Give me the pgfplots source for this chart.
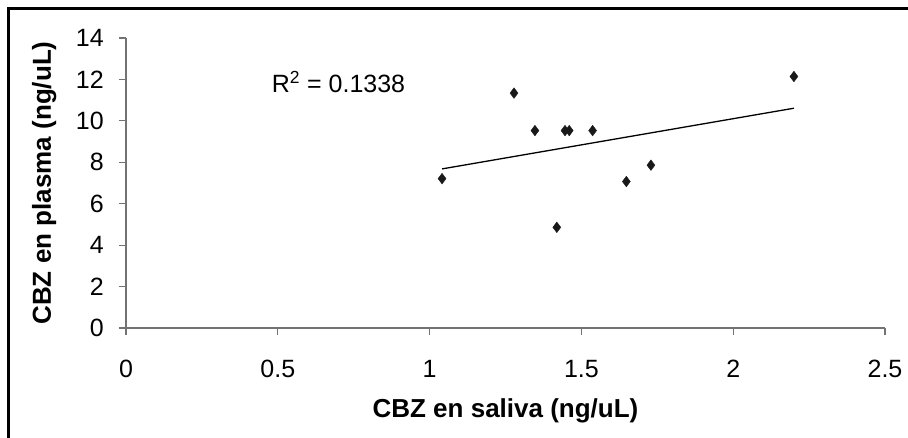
\documentclass[border=0pt]{standalone}
\usepackage{pgfplots}
\pgfplotsset{compat=1.18}
\usepackage{fontspec}
\setmainfont{Liberation Sans}
\begin{document}
\begin{tikzpicture}
\useasboundingbox (-126pt,-110pt) rectangle (782pt,328pt);
\draw[line width=3pt, black] (-117.3pt,-120pt) -- (-117.3pt,319.7pt) -- (800pt,319.7pt);
\begin{axis}[
  at={(0pt,0pt)}, anchor=south west,
  scale only axis,
  width=759pt, height=290pt,
  xmin=0, xmax=2.5, ymin=0, ymax=14,
  axis lines=left,
  axis line style={-, black!55, line width=1.2pt},
  /pgf/number format/assume math mode=true,
  xtick={0,0.5,...,2.5},
  ytick={0,2,...,14},
  xticklabels={0,0.5,1,1.5,2,2.5},
  tick style={black!55, line width=1.2pt},
  tick align=outside,
  major tick length=7pt,
  xticklabel style={font=\fontsize{25}{29}\selectfont, anchor=north, inner sep=0pt},
  yticklabel style={font=\fontsize{25}{29}\selectfont, anchor=east, inner sep=0pt},
  xticklabel shift=25pt,
  yticklabel shift=15pt,
  xlabel={\bfseries CBZ en saliva (ng/uL)},
  ylabel={\bfseries CBZ en plasma (ng/uL)},
  xlabel style={font=\fontsize{26}{30}\selectfont, at={(axis description cs:0.5,0)}, anchor=base, yshift=-90pt},
  ylabel style={font=\fontsize{26}{30}\selectfont, at={([xshift=-75pt]axis description cs:0,0.5)}, anchor=base},
  clip=false,
]
\addplot[only marks, mark=diamond*, mark size=5.3pt, color=black!90] coordinates {
  (1.041,7.21) (1.278,11.34) (1.347,9.53) (1.446,9.53) (1.460,9.53)
  (1.537,9.53) (1.419,4.86) (1.648,7.07) (1.729,7.86) (2.200,12.14)
};
\addplot[black, line width=1.3pt] coordinates {(1.041,7.68) (2.200,10.61)};
\node[anchor=base west, inner sep=0pt, font=\fontsize{25}{30}\selectfont] at (axis cs:0.48,11.35) {R\textsuperscript{2} = 0.1338};
\end{axis}
\end{tikzpicture}
\end{document}
